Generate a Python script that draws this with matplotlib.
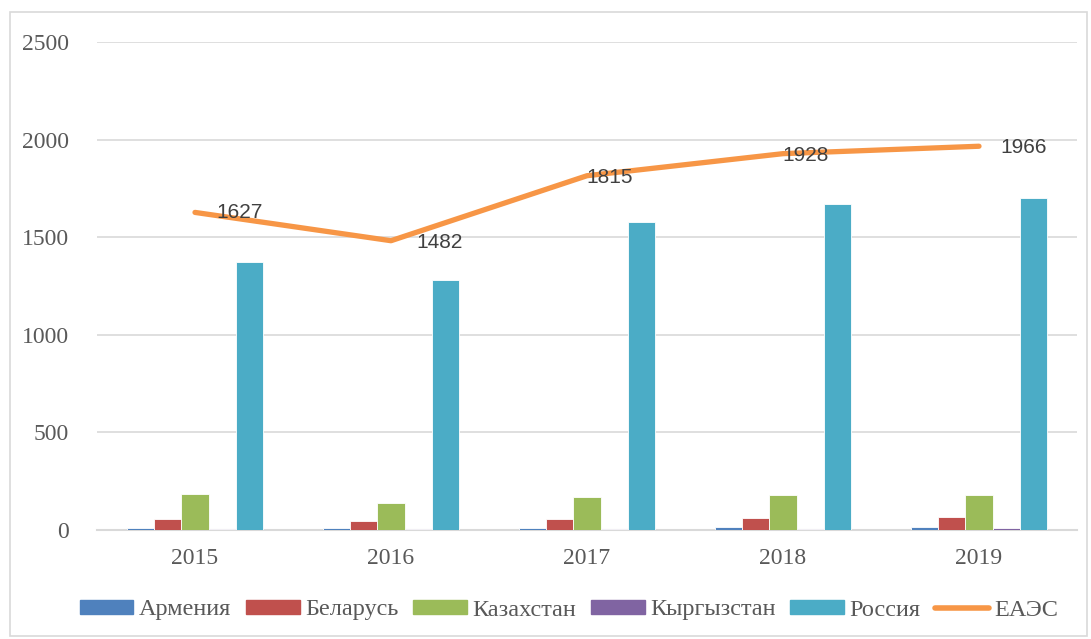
import matplotlib
matplotlib.use("Agg")
import matplotlib.pyplot as plt
import numpy as np
from matplotlib.patches import Rectangle
from matplotlib.lines import Line2D

years = ["2015", "2016", "2017", "2018", "2019"]
armenia = [10, 10, 11, 14, 15]
belarus = [55, 47, 55, 61, 65]
kazakhstan = [184, 138, 168, 179, 179]
kyrgyzstan = [5, 6, 6, 7, 8]
russia = [1372, 1280, 1578, 1672, 1701]
eaeu = [1627, 1482, 1815, 1928, 1966]

series_names = ["Армения", "Беларусь", "Казахстан", "Кыргызстан", "Россия"]
series = [armenia, belarus, kazakhstan, kyrgyzstan, russia]
colors = ["#4F81BD", "#C0504D", "#9BBB59", "#8064A2", "#4BACC6"]
line_color = "#F79646"
label_offsets = [(32, 0), (35, -1), (16, -1), (16, -1), (32, -1)]

fig = plt.figure(figsize=(10.91, 6.39), dpi=100)
ax = fig.add_axes([97/1091, 1-530/639, 980/1091, (530-42)/639])

x = np.arange(len(years))
w = 0.138
for i, (vals, c) in enumerate(zip(series, colors)):
    ax.bar(x + (i - 2) * w, vals, width=w, color=c, edgecolor="white", linewidth=0.6, zorder=3)

ax.plot(x, eaeu, color=line_color, linewidth=3.8, zorder=4, solid_capstyle="round")
for xi, v, off in zip(x, eaeu, label_offsets):
    ax.annotate(str(v), (xi, v), xytext=off, textcoords="offset points",
                ha="center", va="center", fontsize=15, color="#404040",
                family="Liberation Sans", zorder=5)

ax.set_xlim(-0.5, len(years) - 0.5)
ax.set_ylim(0, 2500)
ax.set_yticks(np.arange(0, 2501, 500))
ax.set_xticks(x)
ax.set_xticklabels(years)
for lab in ax.get_xticklabels() + ax.get_yticklabels():
    lab.set_family("Liberation Serif")
    lab.set_fontsize(17)
    lab.set_color("#595959")
ax.tick_params(axis="both", length=0)
ax.tick_params(axis="y", pad=20)
ax.tick_params(axis="x", pad=13)
ax.grid(axis="y", color="#D9D9D9", linewidth=1.2, zorder=0)
for s in ["top", "right", "left"]:
    ax.spines[s].set_visible(False)
ax.spines["bottom"].set_color("#D9D9D9")
ax.spines["bottom"].set_linewidth(1.5)
ax.spines["bottom"].set_zorder(2)

handles = [Rectangle((0, 0), 1, 1, color=c) for c in colors]
handles.append(Line2D([0], [0], color=line_color, linewidth=4, solid_capstyle="round"))
leg = fig.legend(handles, series_names + ["ЕАЭС"], loc="center", bbox_to_anchor=(569/1091, 1-610/639),
                 ncol=6, frameon=False, handlelength=2.2, handleheight=0.47, handletextpad=0.22,
                 columnspacing=0.62, borderpad=0, prop={"family": "Liberation Serif", "size": 17.5})
for t in leg.get_texts():
    t.set_color("#595959")

border = Rectangle((10/1091, 1-636/639), 1077/1091, 624/639, transform=fig.transFigure,
                   fill=False, edgecolor="#D9D9D9", linewidth=1.2)
fig.patches.append(border)

fig.savefig("out.png", dpi=100)
